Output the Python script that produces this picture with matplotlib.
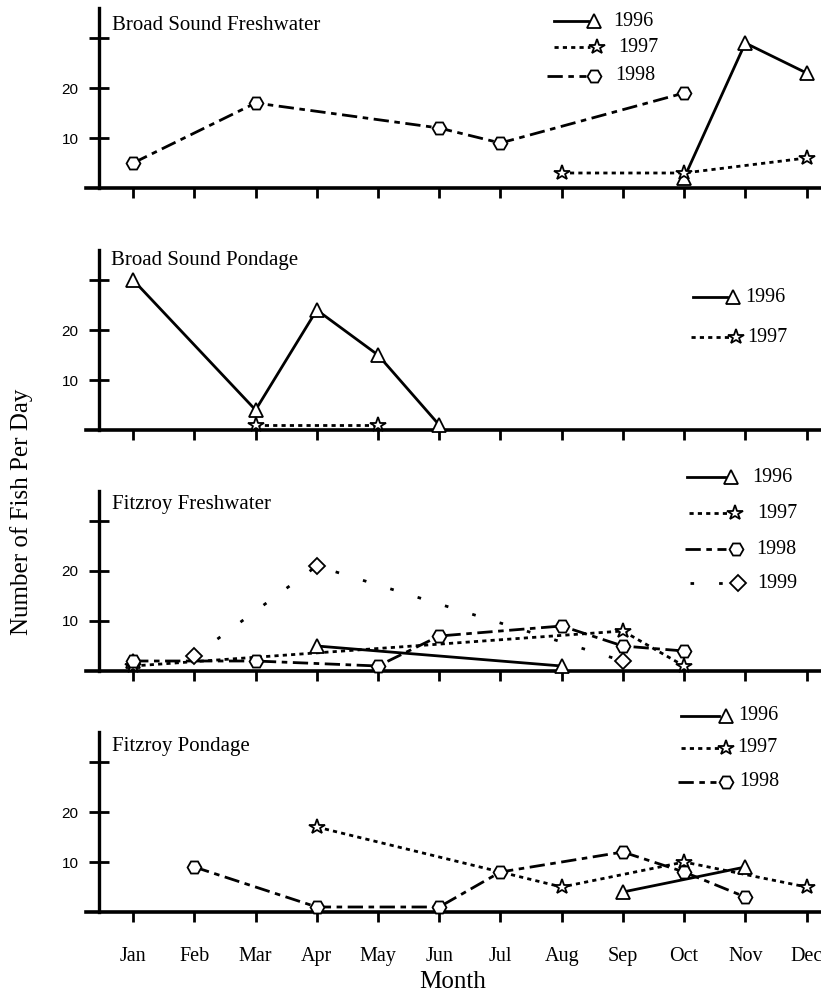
import numpy as np
import matplotlib
matplotlib.use("Agg")
import matplotlib.pyplot as plt
from matplotlib.lines import Line2D

plt.rcParams['font.family'] = ['Liberation Serif', 'DejaVu Serif']

# ---------------- data ----------------
months = ['Jan', 'Feb', 'Mar', 'Apr', 'May', 'Jun', 'Jul', 'Aug', 'Sep', 'Oct', 'Nov', 'Dec']
panel_titles = ['Broad Sound Freshwater', 'Broad Sound Pondage', 'Fitzroy Freshwater', 'Fitzroy Pondage']
y_ticks = [10, 20, 30]
y_ticklabels = ['10', '20', '']

# Broad Sound Freshwater
bsf_1996_m = ['Oct', 'Nov', 'Dec']
bsf_1996_v = [2, 29, 23]
bsf_1997_m = ['Aug', 'Oct', 'Dec']
bsf_1997_v = [3, 3, 6]
bsf_1998_m = ['Jan', 'Mar', 'Jun', 'Jul', 'Oct']
bsf_1998_v = [5, 17, 12, 9, 19]

# Broad Sound Pondage
bsp_1996_m = ['Jan', 'Mar', 'Apr', 'May', 'Jun']
bsp_1996_v = [30, 4, 24, 15, 1]
bsp_1997_m = ['Mar', 'May']
bsp_1997_v = [1, 1]

# Fitzroy Freshwater (nan = missing month, breaks the line)
fzf_1996_m = ['Jan', 'Feb', 'Apr', 'Aug']
fzf_1996_v = [2, np.nan, 5, 1]
fzf_1997_m = ['Jan', 'Sep', 'Oct']
fzf_1997_v = [1, 8, 1]
fzf_1998_m = ['Jan', 'Mar', 'May', 'Jun', 'Aug', 'Sep', 'Oct']
fzf_1998_v = [2, 2, 1, 7, 9, 5, 4]
fzf_1999_m = ['Feb', 'Apr', 'Sep']
fzf_1999_v = [3, 21, 2]

# Fitzroy Pondage
fzp_1996_m = ['Sep', 'Nov']
fzp_1996_v = [4, 9]
fzp_1997_m = ['Apr', 'Aug', 'Oct', 'Dec']
fzp_1997_v = [17, 5, 10, 5]
fzp_1998_m = ['Feb', 'Apr', 'Jun', 'Jul', 'Sep', 'Oct', 'Nov']
fzp_1998_v = [9, 1, 1, 8, 12, 8, 3]

panels = [
    [('1996', bsf_1996_m, bsf_1996_v), ('1997', bsf_1997_m, bsf_1997_v), ('1998', bsf_1998_m, bsf_1998_v)],
    [('1996', bsp_1996_m, bsp_1996_v), ('1997', bsp_1997_m, bsp_1997_v)],
    [('1996', fzf_1996_m, fzf_1996_v), ('1997', fzf_1997_m, fzf_1997_v), ('1998', fzf_1998_m, fzf_1998_v),
     ('1999', fzf_1999_m, fzf_1999_v)],
    [('1996', fzp_1996_m, fzp_1996_v), ('1997', fzp_1997_m, fzp_1997_v), ('1998', fzp_1998_m, fzp_1998_v)],
]

# ---------------- styles ----------------
styles = {
    '1996': dict(ls='-', marker='^', ms=10.5),
    '1997': dict(ls=(0, (1.5, 1.5)), marker='*', ms=11.5),
    '1998': dict(ls=(0, (5.5, 2, 2, 2)), marker='H', ms=10),
    '1999': dict(ls=(0, (1.3, 9)), marker='D', ms=8),
}
LW = 2.0
MEW = 1.3

W, H = 821, 998
fig = plt.figure(figsize=(W / 100, H / 100), dpi=100)

# layout in pixels
ax_left_px = 86
ax_width_px = 734
ax_height_px = 180
bottoms_px = [188, 430, 671, 912]
xlim = (-0.77, 11.22)
yaxis_x = -0.55

# legend layouts: (y_px, line_x0, line_x1, marker_x, text_x)
legend_layout = [
    [(21, 554, 588, 594, 613), (47, 554, 590, 597, 618), (76, 547, 586, 594, 615)],
    [(297, 693, 727, 733, 745), (337, 691, 729, 736, 747)],
    [(477, 687, 725, 731, 752), (513, 689, 727, 735, 757), (549, 685, 726, 736, 756), (583, 690, 727, 738, 757)],
    [(716, 681, 719, 726, 738), (748, 681, 719, 726, 737), (782, 678, 716, 726, 739)],
]

title_pos = [(112, 25), (111, 260), (112, 505), (112, 747)]

for i, series in enumerate(panels):
    b = bottoms_px[i]
    rect = [ax_left_px / W, (H - b) / H, ax_width_px / W, ax_height_px / H]
    ax = fig.add_axes(rect)
    ax.set_xlim(*xlim)
    ax.set_ylim(0, 36)
    for s in ['top', 'right']:
        ax.spines[s].set_visible(False)
    ax.spines['left'].set_position(('data', yaxis_x))
    ax.spines['left'].set_linewidth(2.4)
    ax.spines['bottom'].set_linewidth(2.6)
    ax.patch.set_visible(False)

    ax.set_yticks(y_ticks)
    ax.set_yticklabels(y_ticklabels, fontfamily='Liberation Sans', fontsize=11)
    ax.tick_params(axis='y', direction='inout', length=14, width=2.0, pad=8)
    ax.set_xticks(range(len(months)))
    if i == 3:
        ax.set_xticklabels(months, fontsize=14.5)
        ax.tick_params(axis='x', direction='out', length=7, width=2.0, pad=18)
    else:
        ax.set_xticklabels([])
        ax.tick_params(axis='x', direction='out', length=7, width=2.0)

    for name, m, v in series:
        st = styles[name]
        xs = [months.index(mm) for mm in m]
        ax.plot(xs, v, color='black', lw=LW, ls=st['ls'], zorder=2)
        ax.plot(xs, v, ls='none', marker=st['marker'], ms=st['ms'], mfc='white', mec='black',
                mew=MEW, zorder=3, clip_on=False)

    fig.text(title_pos[i][0] / W, 1 - title_pos[i][1] / H, panel_titles[i], fontsize=15,
             ha='left', va='center')

    # manual legend (line with marker at its end)
    for (name, m, v), (ly, x0, x1, mx, tx) in zip(series, legend_layout[i]):
        st = styles[name]
        yf = 1 - ly / H
        fig.add_artist(Line2D([x0 / W, x1 / W], [yf, yf], transform=fig.transFigure,
                              color='black', lw=LW, ls=st['ls']))
        fig.add_artist(Line2D([mx / W], [yf], transform=fig.transFigure, ls='none',
                              marker=st['marker'], ms=st['ms'], mfc='white', mec='black', mew=MEW))
        fig.text(tx / W, yf, name, fontsize=14.5, ha='left', va='center')

fig.text(22 / W, 1 - 512 / H, 'Number of Fish Per Day', rotation=90, fontsize=18,
         ha='center', va='center')
fig.text(453 / W, 1 - 982 / H, 'Month', fontsize=18, ha='center', va='center')

fig.savefig('out.png', dpi=100)
